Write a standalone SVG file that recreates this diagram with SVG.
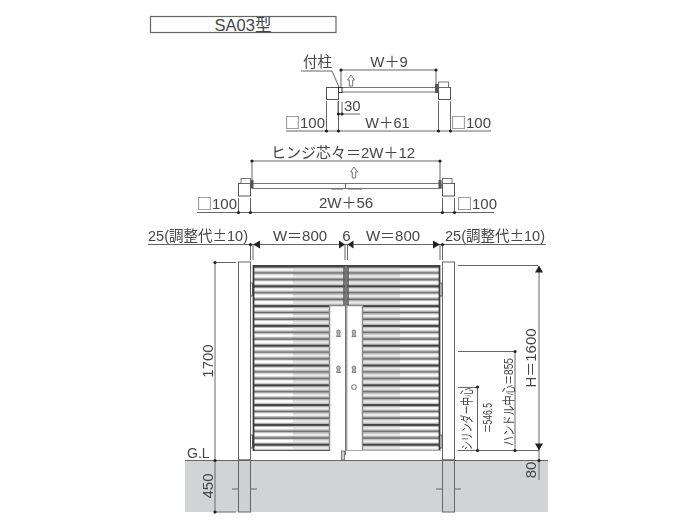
<svg xmlns="http://www.w3.org/2000/svg" width="700" height="524" viewBox="0 0 700 524">
<style>
text{font-family:"Liberation Sans","Noto Sans CJK JP",sans-serif;font-size:15px;fill:#444}
.c{font-family:"Noto Sans CJK JP",sans-serif}
.m{text-anchor:middle}
.d{stroke:#666;stroke-width:1;fill:none}
.p{fill:#fff;stroke:#555;stroke-width:1}
.o{fill:#fff;stroke:#666;stroke-width:.9}
.dot{fill:#222}
.ar{fill:#222}
.key{fill:#bbb;stroke:#777;stroke-width:.9}
</style>
<defs>
<pattern id="sw" patternUnits="userSpaceOnUse" x="0" y="265.500" width="10" height="19.8">
<rect width="10" height="19.8" fill="#fff"/>
<rect y="0" width="10" height="2" fill="#444"/><rect y="2" width="10" height="1" fill="#aaa"/><rect y="5.400" width="10" height="1.200" fill="#bbb"/>
<rect y="6.600" width="10" height="1.800" fill="#666"/><rect y="8.400" width="10" height=".8" fill="#bbb"/><rect y="12" width="10" height="1.200" fill="#bbb"/>
<rect y="13.200" width="10" height="1.800" fill="#666"/><rect y="15" width="10" height=".8" fill="#bbb"/><rect y="18.600" width="10" height="1.200" fill="#bbb"/>
</pattern>
<pattern id="sg" patternUnits="userSpaceOnUse" x="0" y="265.500" width="10" height="19.8">
<rect width="10" height="19.8" fill="#dcdcdc"/>
<rect y="0" width="10" height="2" fill="#444"/><rect y="2" width="10" height="1.400" fill="#bbb"/><rect y="3.400" width="10" height="2" fill="#eee"/><rect y="5.400" width="10" height="1.200" fill="#c4c4c4"/>
<rect y="6.600" width="10" height="1.800" fill="#666"/><rect y="8.400" width="10" height="1.400" fill="#bbb"/><rect y="9.800" width="10" height="2" fill="#eee"/><rect y="11.800" width="10" height="1.400" fill="#c4c4c4"/>
<rect y="13.200" width="10" height="1.800" fill="#666"/><rect y="15" width="10" height="1.400" fill="#bbb"/><rect y="16.400" width="10" height="2" fill="#eee"/><rect y="18.400" width="10" height="1.400" fill="#c4c4c4"/>
</pattern>
<path id="up" d="M0 0l3.500 5h-1.800v6h-3.400v-6h-1.800z" fill="#fff" stroke="#666" stroke-width=".9"/>
<path id="key" d="M0 -3a1.800 1.800 0 0 1 1.800 1.800c0 1-.6 1.400-.8 2.200l1 2.500h-4l1-2.500c-.2-.8-.8-1.200-.8-2.200a1.800 1.800 0 0 1 1.800-1.800z" class="key"/>
</defs>
<rect width="700" height="524" fill="#fff"/>

<g id="title">
<rect x="150.500" y="16.500" width="185.500" height="16" fill="#fff" stroke="#666" stroke-width="1.200"/>
<text x="243" y="30.500" class="m" style="font-size:16.500px" opacity=".99">SA03型</text>
</g>

<g id="ground">
<rect x="185" y="460" width="363" height="52" fill="#d2d3d4"/>
</g>

<g id="plan-single">
<rect class="o" x="341" y="87.500" width="96" height="4.500"/>
<rect class="p" x="326.500" y="87.500" width="12" height="12"/>
<rect class="p" x="438.500" y="87.500" width="12" height="12"/>
<rect class="o" x="438.500" y="82" width="10" height="5.500"/>
<rect x="338.500" y="87.500" width="3.500" height="5" fill="#fff" stroke="#333" stroke-width="1"/>
<rect x="435" y="84" width="3" height="9" fill="#555"/>
<use href="#up" x="351" y="75"/>
</g>

<g id="plan-double">
<rect class="o" x="252" y="183.500" width="189" height="5"/>
<rect class="p" x="238.500" y="183.500" width="12" height="12.500"/>
<rect class="p" x="442.500" y="183.500" width="12" height="12.500"/>
<rect class="o" x="241" y="178.500" width="9.500" height="5"/>
<rect class="o" x="442.500" y="178.500" width="9.500" height="5"/>
<rect x="250.500" y="180" width="3" height="8" fill="#555"/>
<rect x="438.500" y="180" width="3" height="8" fill="#555"/>
<path class="d" d="M345.500 183v5M331 189h12M348 189h14"/>
<use href="#up" x="354" y="167"/>
</g>

<g id="post-left">
<rect x="238.500" y="262" width="12" height="198" fill="#fff" stroke="#666"/>
<rect x="238.500" y="460" width="12" height="52" fill="#cfd0d1" stroke="#666"/>
<path class="d" d="M232 489h6M251 489h6"/>
</g>
<g id="post-right">
<rect x="442.500" y="262" width="12" height="198" fill="#fff" stroke="#666"/>
<rect x="442.500" y="460" width="12" height="52" fill="#cfd0d1" stroke="#666"/>
<path class="d" d="M436 489h6M455 489h6"/>
</g>

<g id="gate">
<rect x="254" y="266" width="39" height="184" fill="url(#sw)"/>
<rect x="293" y="266" width="52" height="39" fill="url(#sg)"/>
<rect x="293" y="305" width="37" height="145" fill="url(#sg)"/>
<rect x="347" y="266" width="53" height="39" fill="url(#sg)"/>
<rect x="362" y="305" width="38" height="145" fill="url(#sg)"/>
<rect x="400" y="266" width="40" height="184" fill="url(#sw)"/>
<rect x="330" y="305" width="32" height="145.500" fill="#fff"/>
<path d="M329.500 450.500V305.500H345M362.500 450.500V305.500H347" fill="none" stroke="#888" stroke-width="1.400"/>
<path d="M253 450.500h77M363 450.500h77" stroke="#555" stroke-width="1.200"/>
<path d="M253 265.700h187" stroke="#444" stroke-width="1.600"/>
<path d="M253.500 265v186M439.500 265v186" stroke="#3c3c3c" stroke-width="1.800"/>
<path d="M344 266v39M348 266v39" stroke="#555" stroke-width="1.500"/>
<rect x="345" y="266" width="2" height="39" fill="#777"/>
<path d="M345.500 305v150M346.800 305v145" stroke="#777" stroke-width="1"/>
<path d="M346 450.500h94" stroke="#aaa" stroke-width="1"/>
<rect x="341.500" y="451" width="3" height="9" fill="#ccc" stroke="#666" stroke-width=".8"/>
<path d="M250.500 283h2v13h-2zM250.500 435h2v13h-2zM440 283h2v13h-2zM440 435h2v13h-2z" fill="#fff" stroke="#444" stroke-width=".9"/>
<use href="#key" x="338.500" y="333"/>
<use href="#key" x="354" y="333"/>
<use href="#key" x="338.500" y="369"/>
<use href="#key" x="354" y="369"/>
<circle cx="354" cy="387" r="2.300" fill="#fff" stroke="#888" stroke-width="1.100"/>
</g>

<g id="connectors">
<path class="d" d="M185 460.500h363" stroke="#444"/>
<path class="d" d="M341 70h95M301 71h31l7 16M341 70v17M436 70v14"/>
<path class="d" d="M286 131h205M326.500 101v30M338.500 101v30M438.500 101v30M450.500 101v30M338 102v12M342 102v12M338 114h22"/>
<path class="d" d="M252 161h188M252 161v20M440 161v20"/>
<path class="d" d="M197 212.500h297M238.500 198v14M250.500 198v14M442.500 198v14M454.500 198v14"/>
<path class="d" d="M148 244.500h102M250 244.500h192M442 244.500h104M250.500 245v15M253 245v15M345 245v15M347.500 245v15M440 245v15M442.500 245v15"/>
<path class="d" d="M215 262v250M215 262.500h21M215 512h21"/>
<path class="d" d="M539 266v214M458 265.500h80M458 450.500h81M458 351.500h57M515 351v99M458 387.500h19M477.500 387v63"/>
<g class="ar">
<path d="M253 244.500l7-4v8zM345 244.500l-6-4v8zM347.500 244.500l6-4v8zM440 244.500l-7-4v8z"/>
<path d="M539 265.500l-4 7h8zM539 450.500l-4-7h8z"/>
</g>
<g class="dot">
<circle cx="341" cy="70" r="1.600"/><circle cx="436" cy="70" r="1.600"/>
<circle cx="326.500" cy="131" r="1.600"/><circle cx="338.500" cy="131" r="1.600"/><circle cx="438.500" cy="131" r="1.600"/><circle cx="450.500" cy="131" r="1.600"/>
<circle cx="338.500" cy="114" r="1.600"/><circle cx="342" cy="114" r="1.600"/>
<circle cx="252" cy="161" r="1.600"/><circle cx="440" cy="161" r="1.600"/>
<circle cx="238.500" cy="212.500" r="1.600"/><circle cx="250.500" cy="212.500" r="1.600"/><circle cx="442.500" cy="212.500" r="1.600"/><circle cx="454.500" cy="212.500" r="1.600"/>
<circle cx="250.500" cy="244.500" r="1.600"/><circle cx="442.500" cy="244.500" r="1.600"/>
<circle cx="215" cy="262.500" r="1.600"/><circle cx="215" cy="460.500" r="1.600"/><circle cx="215" cy="512" r="1.600"/>
<circle cx="515" cy="351.500" r="1.600"/><circle cx="515" cy="450.500" r="1.600"/><circle cx="477.500" cy="387" r="1.600"/><circle cx="477.500" cy="450.500" r="1.600"/><circle cx="539" cy="460.500" r="1.600"/>
</g>
</g>

<g id="labels" opacity=".99">
<text x="317.500" y="67" class="m" style="font-size:14.500px">付柱</text>
<text x="389" y="67" class="m">W＋9</text>
<text x="344" y="111">30</text>
<text x="387.500" y="128" class="m" style="font-size:14.500px">W＋61</text>
<text x="285" y="128"><tspan class="c">□</tspan>100</text>
<text x="451" y="128"><tspan class="c">□</tspan>100</text>
<text x="343" y="158" class="m">ヒンジ芯々＝2W＋12</text>
<text x="346" y="208" class="m">2W＋56</text>
<text x="197" y="209"><tspan class="c">□</tspan>100</text>
<text x="457" y="209"><tspan class="c">□</tspan>100</text>
<text x="198" y="241" class="m" style="font-size:14.500px">25(調整代<tspan class="c">±</tspan>10)</text>
<text x="300" y="241" class="m">W＝800</text>
<text x="346.500" y="241" class="m">6</text>
<text x="393" y="241" class="m">W＝800</text>
<text x="495" y="241" class="m" style="font-size:14.500px">25(調整代<tspan class="c">±</tspan>10)</text>
<text x="187" y="458" style="font-size:14px">G.L</text>
<text transform="translate(213,361) rotate(-90)" class="m">1700</text>
<text transform="translate(213,486) rotate(-90)" class="m">450</text>
<text transform="translate(536,358) rotate(-90)" class="m">H＝1600</text>
<text transform="translate(536,470) rotate(-90)" class="m">80</text>
<text transform="translate(513,402) rotate(-90)" class="m" style="font-size:13px" textLength="88" lengthAdjust="spacingAndGlyphs">ハンドル中心＝855</text>
<text transform="translate(471,419) rotate(-90)" class="m" style="font-size:13px" textLength="62" lengthAdjust="spacingAndGlyphs">シリンダー中心</text>
<text transform="translate(492,418) rotate(-90)" class="m" style="font-size:13px" textLength="30" lengthAdjust="spacingAndGlyphs">＝546.5</text>
</g>
</svg>
